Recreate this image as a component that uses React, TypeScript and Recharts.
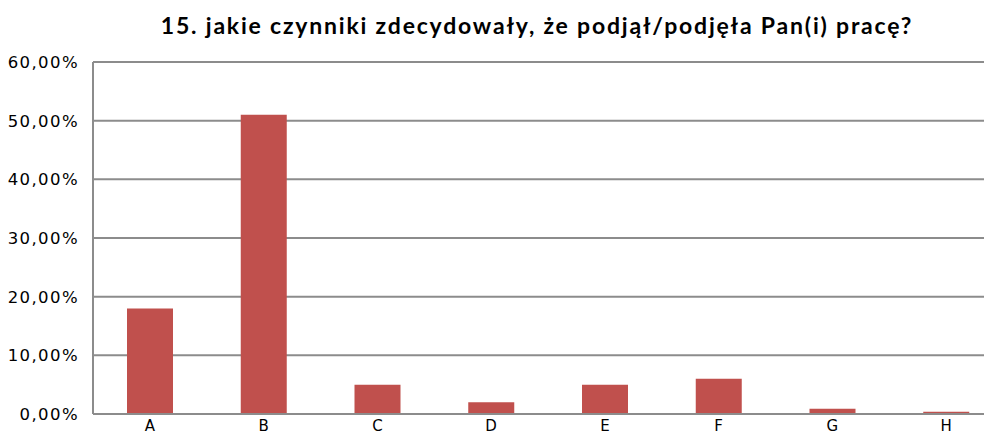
import { BarChart, Bar, XAxis, YAxis, CartesianGrid } from "recharts";

const categories = ["A", "B", "C", "D", "E", "F", "G", "H"];
const shares = [0.18, 0.51, 0.05, 0.02, 0.05, 0.06, 0.009, 0.004];
const yTicks = [0, 0.1, 0.2, 0.3, 0.4, 0.5, 0.6];

const chartData = categories.map((name, i) => ({ name, value: shares[i] }));

const formatPercent = (v: number) => (v * 100).toFixed(2).replace(".", ",") + "%";

const yTickStyle = {
  fontFamily: "DejaVu Sans",
  fontSize: 16.5,
  letterSpacing: 1.4,
  fill: "#000",
};

const xTickStyle = {
  fontFamily: "DejaVu Sans",
  fontSize: 15,
  fill: "#000",
};

export default function App() {
  return (
    <div style={{ margin: "-8px 0 0 -8px", width: 1010, height: 434, position: "relative", overflow: "hidden" }}>
      <div
        style={{
          position: "absolute",
          top: 11,
          left: 0,
          width: 1074,
          textAlign: "center",
          fontFamily: "Lato",
          fontWeight: 700,
          fontSize: 23,
          letterSpacing: 1.8,
          color: "#000",
        }}
      >
        15. jakie czynniki zdecydowały, że podjął/podjęła Pan(i) pracę?
      </div>
      <BarChart
        width={1010}
        height={434}
        data={chartData}
        margin={{ top: 62, right: 7, bottom: 0, left: 0 }}
        barCategoryGap="30%"
      >
        <CartesianGrid vertical={false} stroke="#8c8c8c" strokeWidth={2} />
        <XAxis
          dataKey="name"
          tick={xTickStyle}
          tickLine={false}
          axisLine={{ stroke: "#8c8c8c", strokeWidth: 2 }}
          interval={0}
          height={20}
          tickMargin={0}
        />
        <YAxis
          domain={[0, 0.6]}
          ticks={yTicks}
          tickFormatter={(v) => formatPercent(v as number)}
          tick={yTickStyle}
          tickLine={false}
          axisLine={{ stroke: "#8c8c8c", strokeWidth: 2 }}
          width={93}
          tickMargin={8}
        />
        <Bar dataKey="value" fill="#C0504D" barSize={46} isAnimationActive={false} />
      </BarChart>
    </div>
  );
}
